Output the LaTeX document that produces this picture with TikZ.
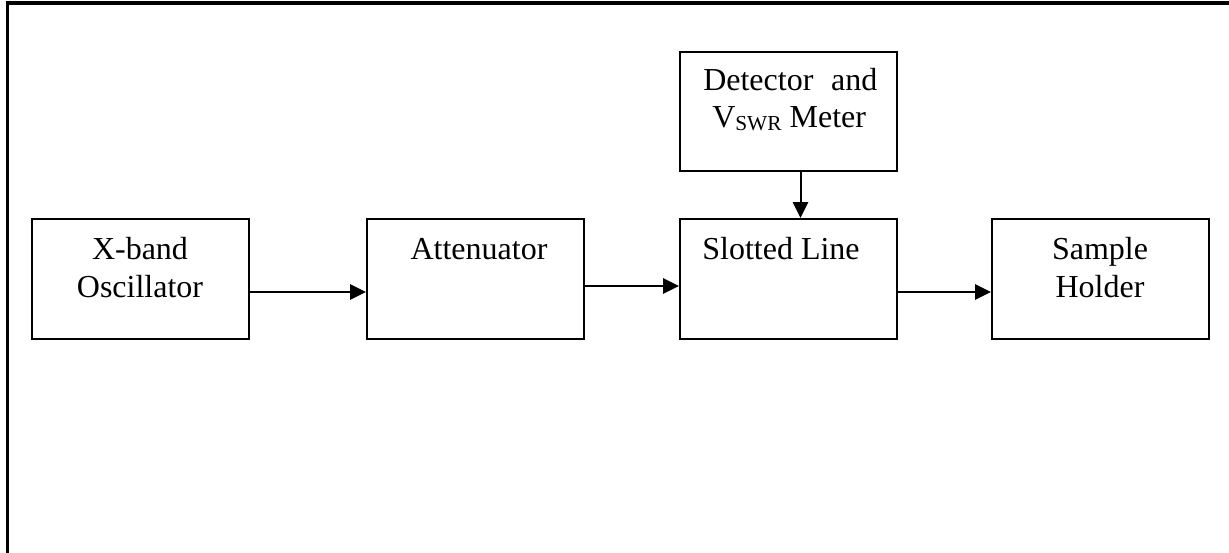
\documentclass[tikz,border=0pt]{standalone}
\usepackage{fontspec}
\setmainfont{Liberation Serif}
\usetikzlibrary{arrows.meta,calc}
\begin{document}
\begin{tikzpicture}[x=0.75pt,y=-0.75pt,
 box/.style={draw,line width=1.5pt,minimum width=162.75pt,minimum height=90pt,inner sep=0pt},
 lbl/.style={font=\fontsize{24pt}{28pt}\selectfont,inner sep=0pt,anchor=base},
 lblw/.style={font=\fontsize{24pt}{28pt}\selectfont,inner sep=0pt,anchor=base west},
 arr/.style={line width=1.5pt,-{Triangle[length=12pt,width=11.5pt]}}]
\useasboundingbox (0,0) rectangle (1229,553);
\draw[line width=2.4pt] (7.5,553) -- (7.5,3) -- (1229,3);
% boxes
\node[box] (osc) at (140,279) {};
\node[box] (att) at (475.5,279) {};
\node[box] (slot) at (788.5,279) {};
\node[box] (samp) at (1100.5,279) {};
\node[box,minimum height=89.25pt] (det) at (788.5,111.5) {};
% labels
\node[lbl] (osc1) at (140,259) {X-band};
\node[lbl] (osc2) at (140,297) {Oscillator};
\node[lbl] (att1) at (479,259) {Attenuator};
\node[lbl] (slot1) at (781,259) {Slotted Line};
\node[lbl] (samp1) at (1100,259) {Sample};
\node[lbl] (samp2) at (1100,297) {Holder};
\node[lblw] (det1) at (703,90) {Detector\hspace{0.55em}and};
\node[lblw] (det2) at (712,127) {V{\fontsize{16pt}{16pt}\selectfont\raisebox{-2.5pt}{SWR}} Meter};
% arrows
\draw[arr] ([yshift=-9.75pt]osc.east) -- ([yshift=-9.75pt]att.west);
\draw[arr] ([yshift=-5.25pt]att.east) -- ([yshift=-5.25pt]slot.west);
\draw[arr] ([yshift=-9.75pt]slot.east) -- ([yshift=-9.75pt]samp.west);
\draw[arr] ([xshift=9pt]det.south) -- ([xshift=9pt]slot.north);
\end{tikzpicture}
\end{document}
